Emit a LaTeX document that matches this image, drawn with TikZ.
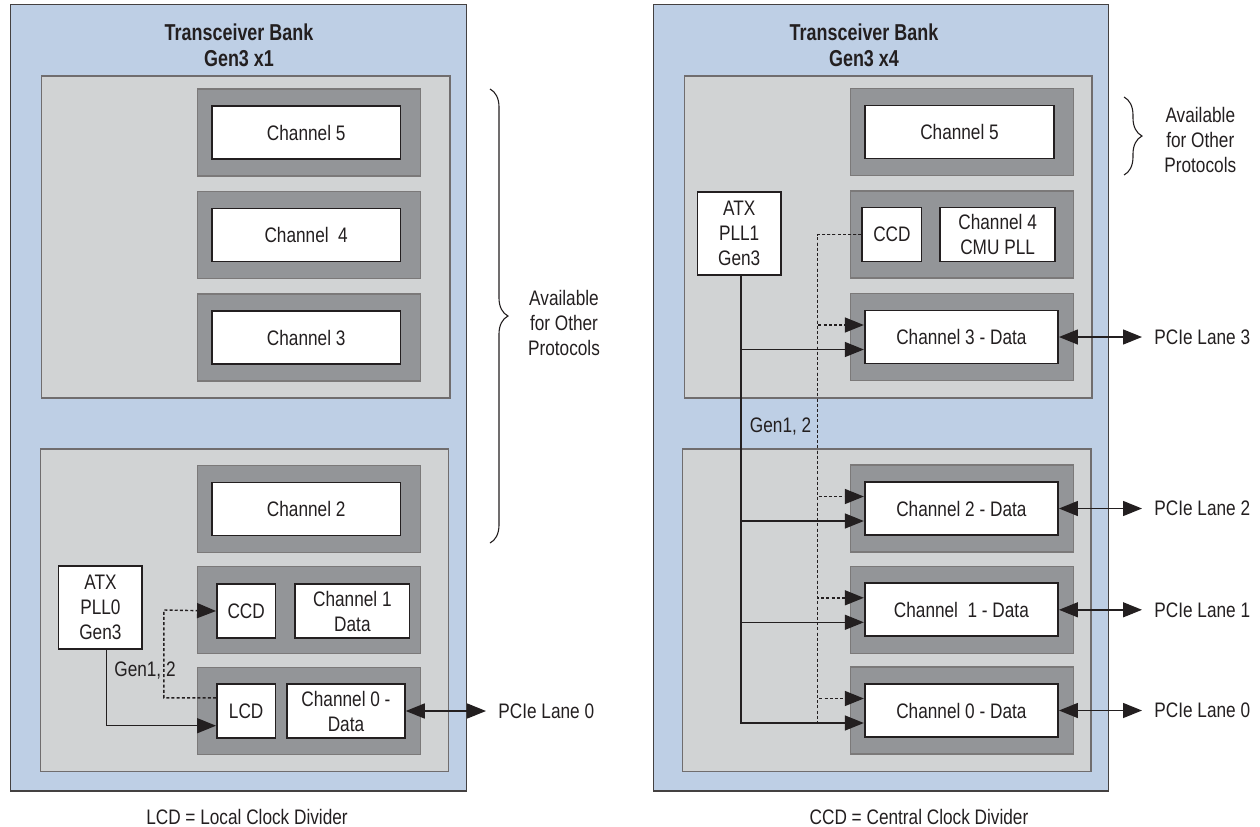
\documentclass[tikz,border=0pt]{standalone}
\usepackage{fontspec}
\setmainfont{Liberation Sans}[FakeStretch=0.82]
\newfontfamily\titlefont{Liberation Sans}[FakeStretch=0.78]
\usepackage{xcolor}
\usetikzlibrary{arrows.meta,decorations.pathreplacing}

\definecolor{bankblue}{RGB}{190,207,229}
\definecolor{panelgray}{RGB}{209,211,212}
\definecolor{framegray}{RGB}{147,149,152}
\definecolor{ink}{RGB}{35,31,32}

\begin{document}
\begin{tikzpicture}[x=0.5pt,y=-0.5pt,>={Triangle[length=9.5pt,width=7.5pt]},
    font=\fontsize{10.5}{12.5}\selectfont,text=ink,
    bank/.style={draw=ink!85,fill=bankblue,line width=0.65pt},
    panel/.style={draw=ink!65,fill=panelgray,line width=0.6pt},
    title/.style={font=\titlefont\bfseries\fontsize{11.5}{13}\selectfont,align=center},
    chframe/.style={draw=ink!60,fill=framegray,line width=0.6pt,inner sep=0pt,
        minimum width=111.5pt,minimum height=43.5pt},
    chbox/.style={draw=ink,fill=white,line width=0.85pt,inner sep=0pt,align=center,
        minimum height=26.5pt},
    link/.style={draw=ink,line width=0.7pt},
    dotlink/.style={link,dash pattern=on 1.5pt off 1.1pt},
    lane/.style={anchor=west,inner sep=6pt},
    bracket/.style={draw=ink,line width=0.55pt,decorate,decoration={brace,amplitude=9pt}}]

\useasboundingbox (0,0) rectangle (1260,826);

% ---------- Gen3 x1 ----------
\draw[bank] (10.7,4.7) rectangle (466.7,791);
\node[title] (titleL) at (239,45) {Transceiver Bank\\Gen3 x1};
\draw[panel] (41.7,76) rectangle (450,398);
\draw[panel] (40.2,449) rectangle (448.6,771.7);

\foreach \n/\y in {5/132.5,4/235,3/337.5,2/509,1/610,0/711}{
    \node[chframe] (frameL\n) at (309,\y) {};
}

\node[chbox,minimum width=94.2pt] (chL5) at (306.2,132.5) {Channel 5};
\node[chbox,minimum width=94.2pt] (chL4) at (306.2,235) {Channel\ \ 4};
\node[chbox,minimum width=94.2pt] (chL3) at (306.2,337.5) {Channel 3};
\node[chbox,minimum width=94.2pt] (chL2) at (306.2,509) {Channel 2};

\node[chbox,minimum width=29.3pt,minimum height=27pt] (ccdL) at (246.2,611) {CCD};
\node[chbox,minimum width=57.2pt,minimum height=27pt] (dataL1) at (352.4,611) {Channel 1\\Data};
\node[chbox,minimum width=29.3pt,minimum height=27pt] (lcdL) at (246.2,711) {LCD};
\node[chbox,minimum width=58.9pt,minimum height=27pt] (dataL0) at (346,711) {Channel 0 -\\Data};

\node[chbox,minimum width=41.8pt,minimum height=41.5pt] (atxL) at (100.4,607.5) {ATX\\PLL0\\Gen3};

\coordinate (bendL) at (163.9,610);
\draw[link,->] ([xshift=3pt]atxL.south) |- ([yshift=-7.35pt]lcdL.west);
\draw[dotlink,->] ([yshift=6.6pt]lcdL.west) -| (bendL) -- (ccdL.west);
\node (genL) at (145,671) {Gen1, 2};

\node[lane] (laneL0) at (486,711) {PCIe Lane 0};
\draw[link,<->] (dataL0.east) -- (laneL0.west);

\draw[bracket] (490,89) -- (490,543);
\node[align=center] (availL) at (564,323) {Available\\for Other\\Protocols};

\node (legendL) at (247,817) {LCD = Local Clock Divider};

% ---------- Gen3 x4 ----------
\draw[bank] (653.3,4.7) rectangle (1108.5,791);
\node[title] (titleR) at (864,45) {Transceiver Bank\\Gen3 x4};
\draw[panel] (684.2,76) rectangle (1092,398);
\draw[panel] (682.2,449) rectangle (1091,771.7);

\foreach \n/\y in {5/132,4/234.5,3/337,2/508.5,1/609.8,0/710.5}{
    \node[chframe] (frameR\n) at (962.2,\y) {};
}

\node[chbox,minimum width=94.2pt] (chR5) at (959.5,132) {Channel 5};
\node[chbox,minimum width=29.6pt,minimum height=27pt] (ccdR) at (891.9,234.5) {CCD};
\node[chbox,minimum width=57.3pt,minimum height=27pt] (cmuR) at (997.6,234.5) {Channel 4\\CMU PLL};

\node[chbox,minimum width=96.7pt] (dataR3) at (961.4,337) {Channel 3 - Data};
\node[chbox,minimum width=96.7pt] (dataR2) at (961.4,508.5) {Channel 2 - Data};
\node[chbox,minimum width=96.7pt] (dataR1) at (961.4,609.8) {Channel\ \ 1 - Data};
\node[chbox,minimum width=96.7pt] (dataR0) at (961.4,710.5) {Channel 0 - Data};

\node[chbox,minimum width=41.8pt,minimum height=41.5pt] (atxR) at (739.2,233.7) {ATX\\PLL1\\Gen3};

\coordinate (dotendR) at (817.6,722);
\draw[dotlink] (ccdR.west) -| (dotendR);
\foreach \n in {3,2,1,0}{
    \draw[link,->] ([xshift=0.8pt]atxR.south) |- ([yshift=-6.25pt]dataR\n.west);
    \draw[dotlink,->] (ccdR.west) -| ([yshift=6pt]dotendR |- dataR\n.west)
        -- ([yshift=6pt]dataR\n.west);
}
\node (genR) at (780.6,427) {Gen1, 2};

\foreach \n in {3,2,1,0}{
    \node[lane] (laneR\n) at (1142,0 |- dataR\n.east) {PCIe Lane \n};
    \draw[link,<->] (dataR\n.east) -- (laneR\n.west);
}

\draw[bracket] (1124,97) -- (1124,175);
\node[align=center] (availR) at (1200.3,140) {Available\\for Other\\Protocols};

\node (legendR) at (919,817) {CCD = Central Clock Divider};

\end{tikzpicture}
\end{document}
